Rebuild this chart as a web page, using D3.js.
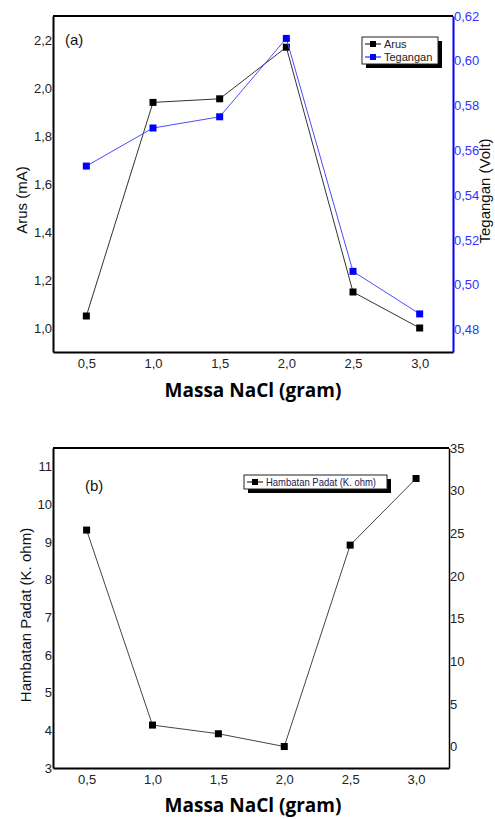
<!DOCTYPE html>
<html>
<head>
<meta charset="utf-8">
<script src="https://cdn.jsdelivr.net/npm/d3@7/dist/d3.min.js"></script>
<style>
  body { margin: 0; background: #fff; }
  text { font-family: "Liberation Sans", Arial, sans-serif; }
</style>
</head>
<body>
<svg id="chart" width="495" height="819"></svg>
<script>
// data
var massa = [0.5, 1.0, 1.5, 2.0, 2.5, 3.0];
var arus = [1.05, 1.94, 1.955, 2.17, 1.15, 1.0];
var tegangan = [0.553, 0.570, 0.575, 0.610, 0.506, 0.487];
var hambatan = [9.32, 4.14, 3.91, 3.57, 8.92, 10.69];

var xTicks = [0.5, 1.0, 1.5, 2.0, 2.5, 3.0];
var arusTicks = [1.0, 1.2, 1.4, 1.6, 1.8, 2.0, 2.2];
var teganganTicks = [0.48, 0.50, 0.52, 0.54, 0.56, 0.58, 0.60, 0.62];
var hambatanTicks = [3, 4, 5, 6, 7, 8, 9, 10, 11];
var rightBTicks = [0, 5, 10, 15, 20, 25, 30, 35];

var svg = d3.select("#chart");
svg.append("rect").attr("width", 495).attr("height", 819).attr("fill", "#fff");

function comma(f) {
  var fmt = d3.format(f);
  return function(d) { return fmt(d).replace(".", ","); };
}

function drawAxis(g, axis, color, width, textColor) {
  g.call(axis);
  g.attr("font-family", null);
  g.select(".domain").attr("stroke", color).attr("stroke-width", width);
  g.selectAll(".tick line").remove();
  g.selectAll(".tick text")
    .attr("fill", textColor || "#222")
    .style("font-size", "13px");
}

function series(g, x, y, vals, lineColor, dotColor) {
  var line = d3.line()
    .x(function(d, i) { return x(massa[i]); })
    .y(function(d) { return y(d); });
  g.append("path")
    .datum(vals)
    .attr("d", line)
    .attr("fill", "none")
    .attr("stroke", lineColor)
    .attr("stroke-width", 1);
  g.selectAll(null)
    .data(vals)
    .enter().append("rect")
    .attr("x", function(d, i) { return x(massa[i]) - 3.5; })
    .attr("y", function(d) { return y(d) - 3.5; })
    .attr("width", 7)
    .attr("height", 7)
    .attr("fill", dotColor);
}

function legend(g, x, y, w, h, items, size, textColor, textLen) {
  g.append("rect").attr("x", x + 4).attr("y", y + 4).attr("width", w).attr("height", h).attr("fill", "#000");
  g.append("rect").attr("x", x).attr("y", y).attr("width", w).attr("height", h)
    .attr("fill", "#fff").attr("stroke", "#222").attr("stroke-width", 1);
  items.forEach(function(it, i) {
    var cy = y + 7 + i * 13;
    g.append("line").attr("x1", x + 3).attr("x2", x + 19).attr("y1", cy).attr("y2", cy)
      .attr("stroke", it.color).attr("stroke-width", 1);
    g.append("rect").attr("x", x + 8).attr("y", cy - 3).attr("width", 6).attr("height", 6).attr("fill", it.color);
    var t = g.append("text").attr("x", x + 22).attr("y", cy + 4).text(it.label)
      .style("font-size", size).attr("fill", textColor);
    if (textLen) t.attr("textLength", textLen).attr("lengthAdjust", "spacingAndGlyphs");
  });
}

// ---------- chart (a)
var a = { left: 53, right: 453, top: 16, bottom: 352 };
var xA = d3.scaleLinear().domain([0.25, 3.25]).range([a.left, a.right]);
var yArus = d3.scaleLinear().domain([0.9, 2.3]).range([a.bottom, a.top]);
var yTeg = d3.scaleLinear().domain([0.47, 0.62]).range([a.bottom, a.top]);

var gA = svg.append("g");
gA.append("line").attr("x1", a.left).attr("x2", a.right).attr("y1", a.top).attr("y2", a.top)
  .attr("stroke", "#000").attr("stroke-width", 2);

drawAxis(gA.append("g").attr("transform", "translate(0," + a.bottom + ")"),
  d3.axisBottom(xA).tickValues(xTicks).tickFormat(comma(".1f")).tickSize(0).tickPadding(7), "#000", 2);
drawAxis(gA.append("g").attr("transform", "translate(" + a.left + ",0)"),
  d3.axisLeft(yArus).tickValues(arusTicks).tickFormat(comma(".1f")).tickSize(0).tickPadding(1), "#000", 2);
drawAxis(gA.append("g").attr("transform", "translate(" + a.right + ",0)"),
  d3.axisRight(yTeg).tickValues(teganganTicks).tickFormat(comma(".2f")).tickSize(0).tickPadding(1), "#0000ff", 2, "#3333ff");

series(gA, xA, yArus, arus, "#333", "#000");
series(gA, xA, yTeg, tegangan, "#4b4bff", "#0000ff");

gA.append("text").attr("x", 65).attr("y", 45).text("(a)").style("font-size", "15px").attr("fill", "#111");
legend(gA, 362, 37, 76, 27, [{ label: "Arus", color: "#000" }, { label: "Tegangan", color: "#0000ff" }], "11px", "#222");

gA.append("text").attr("transform", "translate(27,200) rotate(-90)").attr("text-anchor", "middle")
  .text("Arus (mA)").style("font-size", "15px").attr("fill", "#111");
gA.append("text").attr("transform", "translate(490,191) rotate(-90)").attr("text-anchor", "middle")
  .text("Tegangan (Volt)").style("font-size", "15px").attr("fill", "#111");
gA.append("text").attr("x", 253).attr("y", 397).attr("text-anchor", "middle")
  .text("Massa NaCl (gram)")
  .style("font-family", "'Open Sans', sans-serif").style("font-weight", "bold").style("font-size", "19px");

// ---------- chart (b)
var b = { left: 53, right: 449, top: 448, bottom: 768 };
var xB = d3.scaleLinear().domain([0.245, 3.25]).range([b.left, b.right]);
var yHam = d3.scaleLinear().domain([3, 11.5]).range([b.bottom, b.top]);
var yRightB = d3.scaleLinear().domain([-2.5, 35]).range([b.bottom, b.top]);

var gB = svg.append("g");
gB.append("line").attr("x1", b.left).attr("x2", b.right).attr("y1", b.top).attr("y2", b.top)
  .attr("stroke", "#000").attr("stroke-width", 2);

drawAxis(gB.append("g").attr("transform", "translate(0," + b.bottom + ")"),
  d3.axisBottom(xB).tickValues(xTicks).tickFormat(comma(".1f")).tickSize(0).tickPadding(7), "#000", 2);
drawAxis(gB.append("g").attr("transform", "translate(" + b.left + ",0)"),
  d3.axisLeft(yHam).tickValues(hambatanTicks).tickFormat(d3.format("d")).tickSize(0).tickPadding(1), "#000", 2);
drawAxis(gB.append("g").attr("transform", "translate(" + b.right + ",0)"),
  d3.axisRight(yRightB).tickValues(rightBTicks).tickFormat(d3.format("d")).tickSize(0).tickPadding(1), "#000", 1.5);

series(gB, xB, yHam, hambatan, "#444", "#000");

gB.append("text").attr("x", 85).attr("y", 491).text("(b)").style("font-size", "15px").attr("fill", "#111");
legend(gB, 244, 475, 143, 14, [{ label: "Hambatan Padat (K. ohm)", color: "#000" }], "10.5px", "#1a1a50", 110);

gB.append("text").attr("transform", "translate(31,615) rotate(-90)").attr("text-anchor", "middle")
  .text("Hambatan Padat (K. ohm)").style("font-size", "15px").attr("fill", "#111");
gB.append("text").attr("x", 253).attr("y", 812).attr("text-anchor", "middle")
  .text("Massa NaCl (gram)")
  .style("font-family", "'Open Sans', sans-serif").style("font-weight", "bold").style("font-size", "19px");
</script>
</body>
</html>
